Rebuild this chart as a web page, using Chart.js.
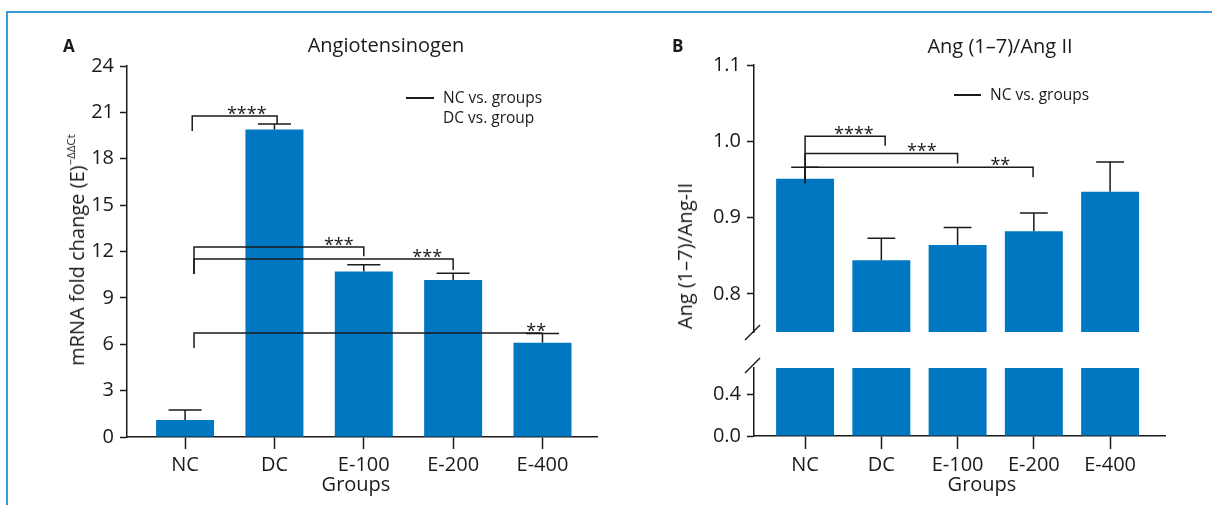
<!DOCTYPE html>
<html>
<head>
<meta charset="utf-8">
<script src="https://cdn.jsdelivr.net/npm/chart.js@4.4.0/dist/chart.umd.min.js"></script>
<style>
  body { margin: 0; background: #fff; }
  #fig { position: relative; width: 1212px; height: 505px; overflow: hidden;
         font-family: "Open Sans", sans-serif; color: #1a1a1a; background: #fff; }
  .frame-top { position: absolute; left: 6px; top: 11px; width: 1206px; height: 2px; background: #3b9ad8; }
  .frame-left { position: absolute; left: 6px; top: 11px; width: 2px; height: 494px; background: #3b9ad8; }
  canvas { position: absolute; }
  .t { position: absolute; white-space: nowrap; line-height: 1; transform: translate(-50%, -50%); }
  .l { position: absolute; white-space: nowrap; line-height: 1; transform: translateY(-50%); }
  .panel { font-weight: 700; font-size: 17px; }
  .title { font-size: 20px; }
  .legend { font-size: 15.5px; }
  .legline { position: absolute; height: 1.5px; background: #1a1a1a; }
  .ytitle { font-size: 20px; transform: translate(-50%, -50%) rotate(-90deg); }
  .ytitle sup { font-size: 11.5px; vertical-align: 9px; }
</style>
</head>
<body>
<div id="fig">
  <div class="frame-top"></div>
  <div class="frame-left"></div>

  <canvas id="chartA" width="606" height="505" style="left:0;top:0"></canvas>
  <canvas id="chartBTop" width="606" height="350" style="left:606px;top:0"></canvas>
  <canvas id="chartBBottom" width="606" height="155" style="left:606px;top:350px"></canvas>

  <div class="l panel" style="left:63px;top:45px">A</div>
  <div class="t title" style="left:386px;top:45px">Angiotensinogen</div>
  <div class="legline" style="left:406px;top:97px;width:28px"></div>
  <div class="l legend" style="left:443px;top:98px">NC vs. groups</div>
  <div class="l legend" style="left:443px;top:118px">DC vs. group</div>
  <div class="t ytitle" style="left:76px;top:250px">mRNA fold change (E)<sup>−ΔΔCt</sup></div>
  <div class="t title" style="left:356px;top:484px">Groups</div>

  <div class="l panel" style="left:672px;top:45px">B</div>
  <div class="t title" style="left:1000px;top:46px">Ang (1–7)/Ang II</div>
  <div class="legline" style="left:954px;top:94px;width:27px"></div>
  <div class="l legend" style="left:990px;top:95px">NC vs. groups</div>
  <div class="t ytitle" style="left:685px;top:256px">Ang (1–7)/Ang-II</div>
  <div class="t title" style="left:982px;top:484px">Groups</div>
</div>

<script>
// ---- data ----
const groups = ["NC", "DC", "E-100", "E-200", "E-400"];

// panel A: angiotensinogen mRNA fold change
const mrnaMean = [1.1, 19.9, 10.7, 10.15, 6.1];
const mrnaErr = [0.65, 0.35, 0.45, 0.45, 0.6];
const mrnaTicks = [0, 3, 6, 9, 12, 15, 18, 21, 24];

// panel B: Ang (1-7)/Ang II ratio
const ratioMean = [0.951, 0.844, 0.864, 0.882, 0.934];
const ratioErr = [0.015, 0.029, 0.023, 0.024, 0.039];
const ratioTicksUpper = [0.8, 0.9, 1.0, 1.1];
const ratioTicksLower = [0.0, 0.4];

// significance brackets: from/to in group index, y levels in data units
const mrnaSig = [
  { from: 0.08, to: 1.03, y: 20.76, yl: 19.8, yr: 20.25, text: "****", tx: 0.69 },
  { from: 0.1, to: 2.0, y: 12.29, yl: 10.54, yr: 11.7, text: "***", tx: 1.72 },
  { from: 0.1, to: 3.0, y: 11.51, yl: 10.54, yr: 10.8, text: "***", tx: 2.71 },
  { from: 0.1, to: 4.0, y: 6.73, yl: 5.76, yr: 6.73, text: "**", tx: 3.93 },
];
const ratioSig = [
  { from: 0, to: 1.05, y: 1.0065, yl: 0.945, yr: 0.994, text: "****", tx: 0.64 },
  { from: 0, to: 2.0, y: 0.984, yl: 0.945, yr: 0.971, text: "***", tx: 1.53 },
  { from: 0, to: 2.99, y: 0.966, yl: 0.966, yr: 0.953, text: "**", tx: 2.56 },
];

// ---- style ----
const INK = "#1a1a1a";
const BAR = "#0078c1";
Chart.defaults.font.family = "'Open Sans', sans-serif";
Chart.defaults.color = INK;

// error bars, brackets and axis-break marks
const annotate = {
  id: "annotate",
  afterDatasetsDraw(chart, args, opts) {
    const { ctx, chartArea } = chart;
    const xs = chart.scales.x, ys = chart.scales.y;
    const bars = chart.getDatasetMeta(0).data;
    ctx.save();
    ctx.strokeStyle = INK;
    ctx.fillStyle = INK;
    ctx.lineWidth = 1.5;

    if (opts.err) {
      opts.mean.forEach((m, i) => {
        const bx = bars[i].x;
        const half = bars[i].width * opts.cap / 2;
        const y0 = ys.getPixelForValue(m);
        const y1 = ys.getPixelForValue(m + opts.err[i]);
        ctx.beginPath();
        ctx.moveTo(bx, y0); ctx.lineTo(bx, y1);
        ctx.moveTo(bx - half, y1); ctx.lineTo(bx + half, y1);
        ctx.stroke();
      });
    }

    (opts.sig || []).forEach((s) => {
      const x0 = xs.getPixelForValue(s.from), x1 = xs.getPixelForValue(s.to);
      const y = ys.getPixelForValue(s.y);
      ctx.beginPath();
      ctx.moveTo(x0, ys.getPixelForValue(s.yl));
      ctx.lineTo(x0, y);
      ctx.lineTo(x1, y);
      ctx.lineTo(x1, ys.getPixelForValue(s.yr));
      ctx.stroke();
      ctx.font = "18px 'Open Sans', sans-serif";
      ctx.textAlign = "center";
      ctx.textBaseline = "alphabetic";
      ctx.fillText(s.text, xs.getPixelForValue(s.tx), y + 4);
    });

    const L = chartArea.left;
    if (opts.breakBottom) {
      const b = chartArea.bottom;
      ctx.beginPath(); ctx.moveTo(L - 9, b + 8); ctx.lineTo(L + 6, b - 7); ctx.stroke();
    }
    if (opts.breakTop) {
      const t = chartArea.top;
      ctx.beginPath(); ctx.moveTo(L - 9, t + 5); ctx.lineTo(L + 6, t - 10); ctx.stroke();
    }
    ctx.restore();
  },
};

function yAxis(min, max, ticks, width, fmt) {
  return {
    min, max,
    afterBuildTicks: (s) => { s.ticks = ticks.map((v) => ({ value: v })); },
    afterFit: (s) => { s.width = width; },
    border: { color: INK, width: 1.5 },
    grid: { drawOnChartArea: false, drawTicks: true, tickLength: 7, tickWidth: 1.5, tickColor: INK },
    ticks: { font: { size: 20 }, padding: 6, callback: fmt },
  };
}

function xAxis(min, max, height, tickLen, show) {
  return {
    type: "linear", min, max, display: show, offset: false,
    afterBuildTicks: (s) => { s.ticks = groups.map((g, i) => ({ value: i })); },
    afterFit: (s) => { s.height = height; },
    border: { color: INK, width: 1.5 },
    grid: { offset: false, drawOnChartArea: false, drawTicks: true, tickLength: tickLen, tickWidth: 1.5, tickColor: INK },
    ticks: { font: { size: 20 }, padding: 4, maxRotation: 0, autoSkip: false, callback: (v) => groups[v] },
  };
}

function barData(values, pct) {
  return {
    datasets: [{
      data: values.map((v, i) => ({ x: i, y: v })),
      backgroundColor: BAR,
      borderWidth: 0,
      barPercentage: pct,
      categoryPercentage: 1,
    }],
  };
}

const baseOpts = {
  responsive: false,
  animation: false,
  devicePixelRatio: 1,
  events: [],
};

// Panel A
new Chart(document.getElementById("chartA"), {
  type: "bar",
  data: barData(mrnaMean, 0.649),
  options: {
    ...baseOpts,
    layout: { autoPadding: false, padding: { left: 0, top: 66, right: 9, bottom: 0 } },
    plugins: {
      legend: { display: false }, tooltip: { enabled: false },
      annotate: { mean: mrnaMean, err: mrnaErr, cap: 0.57, sig: mrnaSig },
    },
    scales: {
      x: xAxis(-0.65, 4.61, 68, 12, true),
      y: yAxis(0, 24, mrnaTicks, 127, (v) => v),
    },
  },
  plugins: [annotate],
});

// Panel B, upper segment of the broken axis
new Chart(document.getElementById("chartBTop"), {
  type: "bar",
  data: barData(ratioMean, 0.76),
  options: {
    ...baseOpts,
    layout: { autoPadding: false, padding: { left: 0, top: 65, right: 47, bottom: 15 } },
    plugins: {
      legend: { display: false }, tooltip: { enabled: false },
      annotate: { mean: ratioMean, err: ratioErr, cap: 0.48, sig: ratioSig, breakBottom: true },
    },
    scales: {
      x: xAxis(-0.67, 4.72, 0, 13, false),
      y: yAxis(0.75, 1.1, ratioTicksUpper, 148, (v) => v.toFixed(1)),
    },
  },
  plugins: [annotate],
});

// Panel B, lower segment
new Chart(document.getElementById("chartBBottom"), {
  type: "bar",
  data: barData(ratioMean, 0.76),
  options: {
    ...baseOpts,
    layout: { autoPadding: false, padding: { left: 0, top: 12, right: 47, bottom: 0 } },
    plugins: {
      legend: { display: false }, tooltip: { enabled: false },
      annotate: { breakTop: true },
    },
    scales: {
      x: xAxis(-0.67, 4.72, 69, 13, true),
      y: yAxis(0, 0.66, ratioTicksLower, 148, (v) => v.toFixed(1)),
    },
  },
  plugins: [annotate],
});
</script>
</body>
</html>
